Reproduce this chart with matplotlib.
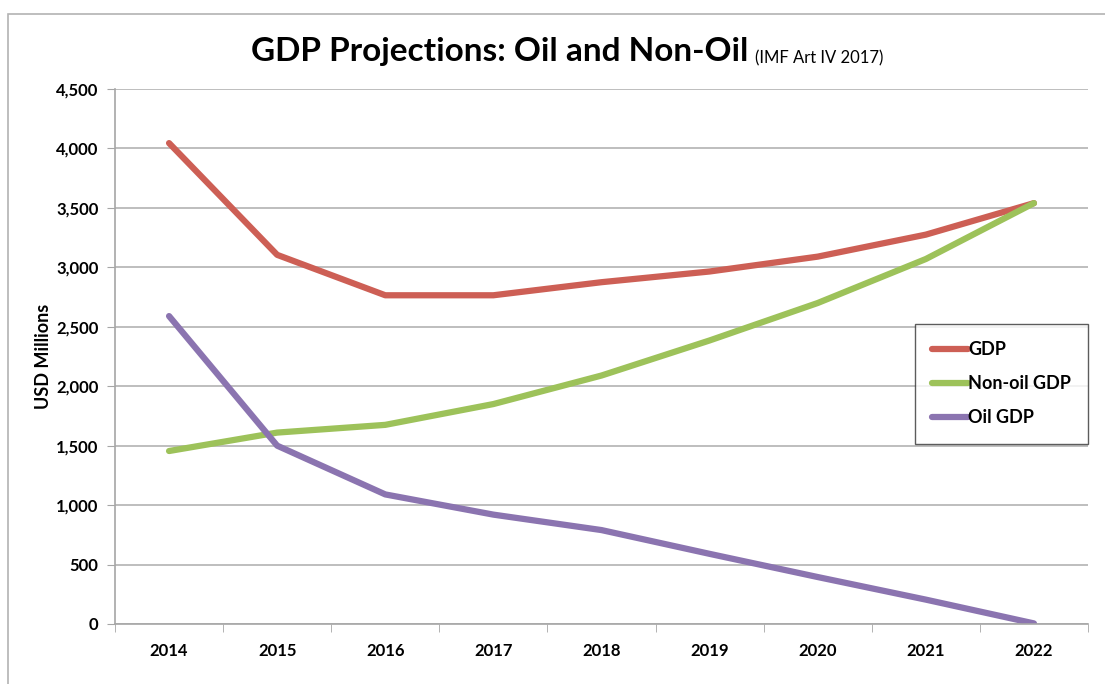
import matplotlib.pyplot as plt
from matplotlib.patches import Rectangle

years = ['2014', '2015', '2016', '2017', '2018', '2019', '2020', '2021', '2022']
gdp = [4045, 3105, 2765, 2765, 2875, 2965, 3090, 3275, 3540]
non_oil_gdp = [1455, 1610, 1675, 1850, 2090, 2385, 2700, 3070, 3540]
oil_gdp = [2590, 1500, 1090, 920, 790, 590, 395, 205, 5]

plt.rcParams['font.family'] = ['Lato', 'DejaVu Sans']

fig = plt.figure(figsize=(11.05, 6.84), dpi=100)
W, H = 1105, 684
ax = fig.add_axes([115 / W, 1 - 624 / H, (1088 - 115) / W, (624 - 89) / H])

# outer frame of the chart area
fig.patches.append(Rectangle((8 / W, -0.1), 1.2, 1.1 - 14 / H, transform=fig.transFigure,
                             fill=False, edgecolor='#b3b3b3', linewidth=1.2))

xs = range(len(years))
ax.plot(xs, gdp, color='#cd5f55', lw=4.5, label='GDP', solid_capstyle='round')
ax.plot(xs, non_oil_gdp, color='#9dc25a', lw=4.5, label='Non-oil GDP', solid_capstyle='round')
ax.plot(xs, oil_gdp, color='#8b74b0', lw=4.5, label='Oil GDP', solid_capstyle='round')

ax.set_xlim(-0.5, len(years) - 0.5)
ax.set_ylim(0, 4500)
ax.set_yticks(range(0, 4501, 500))
ax.set_yticklabels([f'{v:,}' for v in range(0, 4501, 500)], fontsize=12, fontweight='bold')
ax.set_xticks(list(xs))
ax.set_xticklabels(years, fontsize=12, fontweight='bold')
ax.set_xticks([i - 0.5 for i in range(len(years) + 1)], minor=True)
ax.tick_params(axis='x', which='major', length=0, pad=14)
ax.tick_params(axis='x', which='minor', length=6, color='#a6a6a6')
ax.tick_params(axis='y', length=6, color='#a6a6a6', pad=6)
ax.grid(axis='y', color='#b3b3b3', lw=1.2)
ax.set_axisbelow(True)
for s in ['top', 'right']:
    ax.spines[s].set_visible(False)
for s in ['left', 'bottom']:
    ax.spines[s].set_color('#a6a6a6')
    ax.spines[s].set_linewidth(1.2)

ax.set_ylabel('USD Millions', fontsize=13, fontweight='bold', labelpad=3)

fig.text(748 / W, 1 - 52 / H, 'GDP Projections: Oil and Non-Oil', ha='right', va='center',
         fontsize=24, fontweight='bold')
fig.text(755 / W, 1 - 58 / H, '(IMF Art IV 2017)', ha='left', va='center', fontsize=12)

leg = ax.legend(loc='upper right', bbox_to_anchor=(1088 / W, 1 - 324 / H),
                bbox_transform=fig.transFigure, frameon=True, fancybox=False,
                handlelength=2.0, handletextpad=0.0, labelspacing=0.95,
                borderpad=0.95, borderaxespad=0, prop={'weight': 'bold', 'size': 13})
leg.get_frame().set_edgecolor('#333333')
leg.get_frame().set_linewidth(1.0)

fig.savefig('out.png', dpi=100)
